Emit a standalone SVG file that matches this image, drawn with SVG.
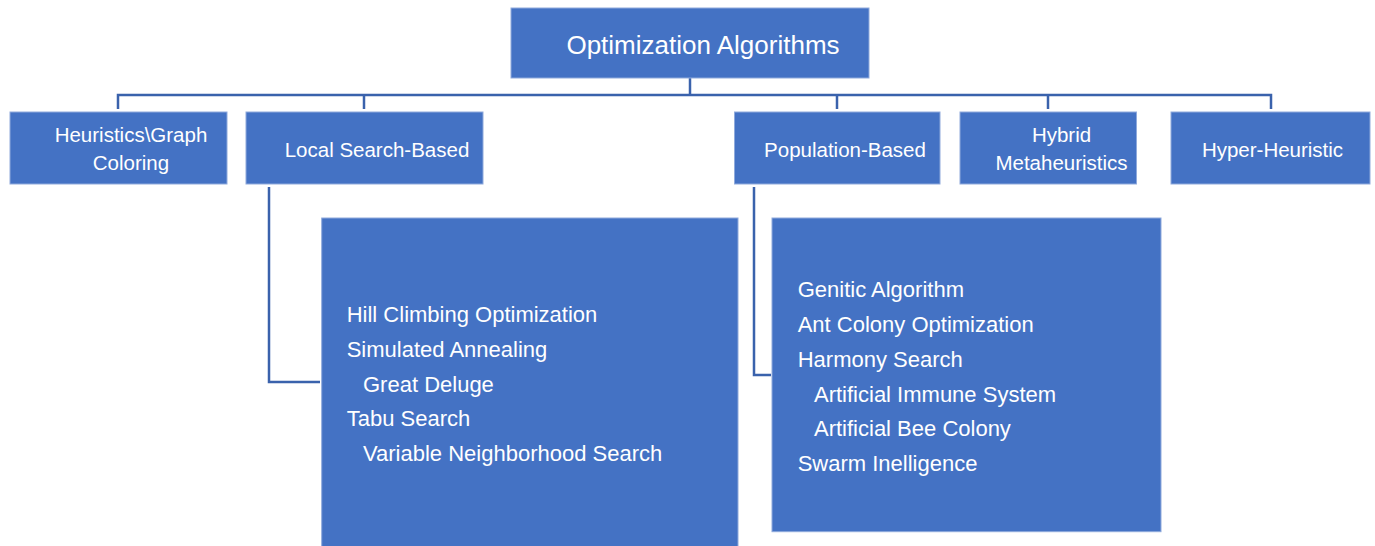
<svg xmlns="http://www.w3.org/2000/svg" width="1375" height="546" viewBox="0 0 1375 546">
  <style>
    .box { fill: #4472C4; stroke: #8FAADC; stroke-width: 1; }
    .t { font-family: "Liberation Sans", Arial, sans-serif; fill: #FFFFFF; }
    .h2 { font-size: 20.5px; text-anchor: middle; }
    .item { font-size: 22px; }
    .conn { fill: none; stroke: #3A62AC; stroke-width: 2.5; }
  </style>
  <rect width="1375" height="546" fill="#FFFFFF"/>

  <g id="connectors">
    <path class="conn" d="M690 78 V95"/>
    <path class="conn" d="M118 109 V95 H1271 V109" stroke-width="3"/>
    <path class="conn" d="M364 95 V109"/>
    <path class="conn" d="M837 95 V109"/>
    <path class="conn" d="M1048 95 V109"/>
    <path class="conn" d="M269 187 V382 H320" stroke-width="2"/>
    <path class="conn" d="M754 187 V375 H771" stroke-width="2"/>
  </g>

  <g id="root">
    <rect class="box" x="511" y="8" width="358" height="70"/>
    <text class="t" x="703" y="53.5" font-size="26" text-anchor="middle">Optimization Algorithms</text>
  </g>

  <g id="heuristics">
    <rect class="box" x="10" y="112" width="217" height="72"/>
    <text class="t h2" x="131" y="141.7">Heuristics\Graph</text>
    <text class="t h2" x="131" y="170">Coloring</text>
  </g>

  <g id="local-search">
    <rect class="box" x="246" y="112" width="237" height="72"/>
    <text class="t h2" x="377" y="157.3">Local Search-Based</text>
  </g>

  <g id="population">
    <rect class="box" x="734.5" y="112" width="205.5" height="72"/>
    <text class="t h2" x="845" y="156.7">Population-Based</text>
  </g>

  <g id="hybrid">
    <rect class="box" x="960" y="112" width="176.5" height="72"/>
    <text class="t h2" x="1061.5" y="141.7">Hybrid</text>
    <text class="t h2" x="1061.5" y="170">Metaheuristics</text>
  </g>

  <g id="hyper">
    <rect class="box" x="1171" y="112" width="199" height="72"/>
    <text class="t h2" x="1272.5" y="157">Hyper-Heuristic</text>
  </g>

  <g id="local-list">
    <rect class="box" x="321.7" y="218" width="416.3" height="340"/>
    <text class="t item" x="346.7" y="322.3">Hill Climbing Optimization</text>
    <text class="t item" x="346.7" y="356.8">Simulated Annealing</text>
    <text class="t item" x="363" y="391.5">Great Deluge</text>
    <text class="t item" x="346.7" y="426">Tabu Search</text>
    <text class="t item" x="363" y="460.8">Variable Neighborhood Search</text>
  </g>

  <g id="population-list">
    <rect class="box" x="772" y="218" width="389" height="313.7"/>
    <text class="t item" x="797.7" y="297.3">Genitic Algorithm</text>
    <text class="t item" x="797.7" y="332.3">Ant Colony Optimization</text>
    <text class="t item" x="797.7" y="367">Harmony Search</text>
    <text class="t item" x="814" y="401.7">Artificial Immune System</text>
    <text class="t item" x="814" y="436.2">Artificial Bee Colony</text>
    <text class="t item" x="797.7" y="470.6">Swarm Inelligence</text>
  </g>
</svg>
